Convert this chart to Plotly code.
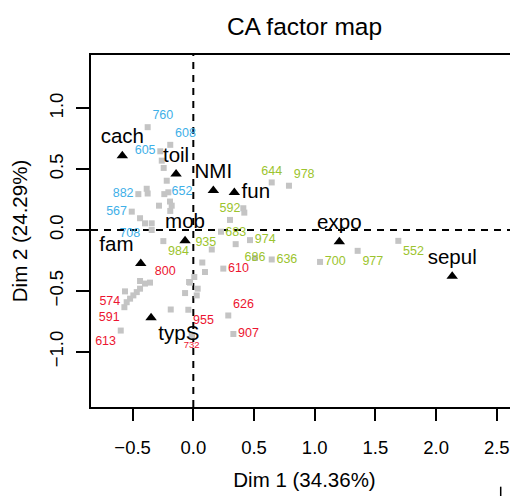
import plotly.graph_objects as go

# ---- column points (categories) ----
col_names = ["cach", "toil", "NMI", "fun", "mob", "fam", "typS", "expo", "sepul"]
col_x = [-0.585, -0.142, 0.165, 0.338, -0.068, -0.433, -0.348, 1.203, 2.133]
col_y = [0.61, 0.46, 0.325, 0.308, -0.088, -0.275, -0.72, -0.097, -0.38]

# ---- row points ----
row_names = ["760", "608", "605", "652", "882", "567", "708",
             "800", "574", "591", "613", "955", "732", "610", "626", "907",
             "644", "978", "592", "935", "683", "974", "686", "636", "700", "977", "552", "984",
             "", "", "", "", "", "", "", "", "", "", "", "", "",
             "", "", "", "", "",
             "", "", "", "", "", "", "", "", "", "", "", "", "", ""]
row_x = [-0.376, -0.19, -0.272, -0.219, -0.453, -0.507, -0.398,
         -0.357, -0.563, -0.568, -0.598, -0.041, -0.013, 0.247, 0.288, 0.33,
         0.646, 0.788, 0.302, 0.228, 0.349, 0.467, 0.508, 0.646, 1.044, 1.354, 1.689, -0.247,
         -0.26, -0.244, -0.384, -0.376, -0.239, -0.206, -0.192, -0.178, -0.283, -0.19, -0.343, -0.343, -0.439,
         0.412, 0.42, 0.152, 0.074, 0.096,
         -0.398, -0.439, -0.439, -0.466, -0.494, -0.521, -0.549, -0.186, -0.068, -0.035, 0.008, 0.036, 0.028, -0.027]
row_y = [0.845, 0.70, 0.647, 0.405, 0.295, 0.151, 0.055,
         -0.432, -0.504, -0.634, -0.826, -0.655, -0.868, -0.317, -0.702, -0.854,
         0.391, 0.364, 0.083, -0.014, -0.116, -0.083, -0.23, -0.242, -0.262, -0.171, -0.089, -0.091,
         0.57, 0.51, 0.339, 0.30, 0.295, 0.31, 0.234, 0.20, 0.20, 0.157, 0.055, 0.0, 0.097,
         0.179, 0.143, -0.16, -0.267, -0.345,
         -0.44, -0.419, -0.482, -0.51, -0.537, -0.564, -0.593, -0.653, -0.518, -0.427, -0.386, -0.482, -0.537, -0.432]
row_group = (["b"] * 7 + ["r"] * 9 + ["g"] * 12 + [""] * 32)

# ---- styles ----
group_color = {"b": "#3fb0e8", "r": "#ec1530", "g": "#9cc42e", "": "#000000"}
row_label_pos = ["top right", "top right", "middle left", "bottom right", "middle left", "middle left", "bottom left",
                 "top right", "bottom left", "bottom left", "bottom left", "bottom right", "bottom center",
                 "middle right", "top right", "middle right",
                 "top center", "top right", "top center", "bottom left", "top center", "middle right",
                 "middle center", "middle right", "middle right", "bottom right", "bottom right", "bottom right"] + \
                ["top center"] * 32
row_label_size = [12.5] * 12 + [9.5] + [12.5] * 47
col_label_pos = ["top center", "top center", "top center", "middle right", "top center",
                 "top left", "bottom right", "top center", "top center"]

FONT = "Liberation Sans, Arial, Helvetica, sans-serif"

# the page body adds an 8px margin, so the figure is 8px smaller than the window
W, H = 510, 488
L, T, B = 83, 47, 89

fig = go.Figure()

fig.add_trace(go.Scatter(
    x=row_x, y=row_y, mode="markers+text", text=row_names,
    textposition=row_label_pos,
    textfont=dict(family=FONT, size=row_label_size, color=[group_color[g] for g in row_group]),
    marker=dict(symbol="square", size=6, color="#c4c4c4", line=dict(width=0)),
    hoverinfo="text", showlegend=False, cliponaxis=False))

fig.add_trace(go.Scatter(
    x=col_x, y=col_y, mode="markers+text", text=col_names,
    textposition=col_label_pos,
    textfont=dict(family=FONT, size=20.5, color="black"),
    marker=dict(symbol="triangle-up", size=10, color="black", line=dict(width=0)),
    hoverinfo="text", showlegend=False, cliponaxis=False))

fig.add_shape(type="line", xref="x", yref="paper", x0=0, x1=0, y0=0, y1=1,
              line=dict(color="black", width=2, dash="7px,6px"), layer="below")
fig.add_shape(type="line", xref="paper", yref="y", x0=0, x1=1, y0=0, y1=0,
              line=dict(color="black", width=2, dash="7px,6px"), layer="below")
# small stray mark at the bottom right
fig.add_shape(type="line", xref="paper", yref="paper", x0=0.9595, x1=0.9595, y0=-0.2264, y1=-0.27,
              line=dict(color="black", width=1.5))

fig.update_layout(
    width=W, height=H,
    margin=dict(l=L, r=0, t=T, b=B, autoexpand=False),
    paper_bgcolor="white", plot_bgcolor="white",
    font=dict(family=FONT, color="black"),
    title=dict(text="CA factor map", x=0.5, xanchor="center", xref="paper",
               y=1 - 18 / H, yanchor="middle", yref="container",
               font=dict(family=FONT, size=24.5, color="black")),
    xaxis=dict(range=[-0.843, 2.675], tickvals=[-0.5, 0, 0.5, 1, 1.5, 2, 2.5],
               ticktext=["\u22120.5", "0.0", "0.5", "1.0", "1.5", "2.0", "2.5"],
               ticks="outside", ticklen=12, tickwidth=1.5, tickcolor="black",
               showline=True, linecolor="black", linewidth=2, mirror=True,
               showgrid=False, zeroline=False, ticklabelstandoff=11, automargin=False,
               tickfont=dict(family=FONT, size=18.5, color="black"),
               title=dict(text="Dim 1 (34.36%)", standoff=15,
                          font=dict(family=FONT, size=20.5, color="black"))),
    yaxis=dict(range=[-1.454, 1.438], tickvals=[-1, -0.5, 0, 0.5, 1],
               ticktext=["\u22121.0", "\u22120.5", "0.0", "0.5", "1.0"],
               ticks="outside", ticklen=13, tickwidth=1.5, tickcolor="black",
               tickangle=-90,
               showline=True, linecolor="black", linewidth=2, mirror=False,
               showgrid=False, zeroline=False, ticklabelstandoff=6, automargin=False,
               tickfont=dict(family=FONT, size=18.5, color="black"),
               title=dict(text="Dim 2 (24.29%)", standoff=12,
                          font=dict(family=FONT, size=20.5, color="black"))),
)

fig.write_html("out.html")
